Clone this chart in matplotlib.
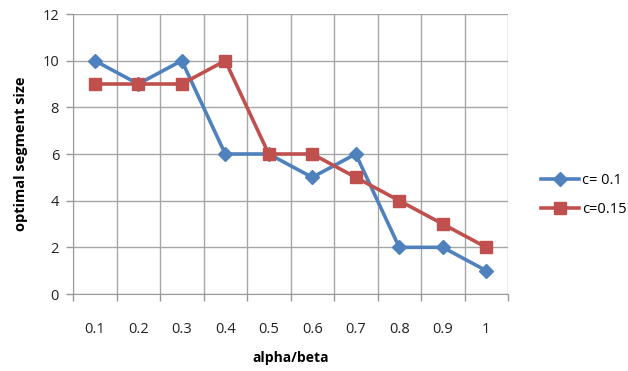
import matplotlib
matplotlib.use("Agg")
import matplotlib.pyplot as plt
import numpy as np

categories = ["0.1", "0.2", "0.3", "0.4", "0.5", "0.6", "0.7", "0.8", "0.9", "1"]
c01 = [10, 9, 10, 6, 6, 5, 6, 2, 2, 1]
c015 = [9, 9, 9, 10, 6, 6, 5, 4, 3, 2]
yticks = [0, 2, 4, 6, 8, 10, 12]

plt.rcParams['font.family'] = ['Open Sans', 'DejaVu Sans']

fig = plt.figure(figsize=(6.28, 3.71), dpi=100)
ax = fig.add_axes([73/628, 1-294/371, 435/628, 280/371])

x = np.arange(1, len(categories) + 1)
blue = "#4F81BD"
red = "#C0504D"
ax.plot(x, c01, color=blue, lw=2.6, marker="D", ms=7.5, label="c= 0.1", zorder=3)
ax.plot(x, c015, color=red, lw=2.6, marker="s", ms=9, label="c=0.15", zorder=3)

ax.set_xlim(0.5, len(categories) + 0.5)
ax.set_ylim(0, 12)
ax.set_yticks(yticks)
ax.set_xticks(x)
ax.set_xticklabels(categories)
ax.set_xticks(np.arange(0.5, len(categories) + 1, 1), minor=True)
ax.tick_params(axis="x", which="major", length=0, pad=20, labelsize=10.5, colors="#222222")
ax.tick_params(axis="x", which="minor", length=5, color="#999999", width=1)
ax.tick_params(axis="y", length=5, color="#999999", width=1, labelsize=10.5, colors="#222222", pad=5)
ax.grid(True, axis="y", which="major", color="#a6a6a6", lw=1)
ax.grid(True, axis="x", which="minor", color="#a6a6a6", lw=1)
for s in ["top", "right"]:
    ax.spines[s].set_visible(False)
for s in ["left", "bottom"]:
    ax.spines[s].set_color("#999999")
ax.set_axisbelow(True)

ax.set_xlabel("alpha/beta", fontsize=10, fontweight="bold", labelpad=10)
ax.set_ylabel("optimal segment size", fontsize=10.5, fontweight="bold", labelpad=10)

leg = fig.legend(loc="upper left", bbox_to_anchor=(528/628, 1-160/371), frameon=False,
                 fontsize=10.5, handlelength=2.6, labelspacing=0.95, handletextpad=0.2)

fig.savefig("out.png", dpi=100)
